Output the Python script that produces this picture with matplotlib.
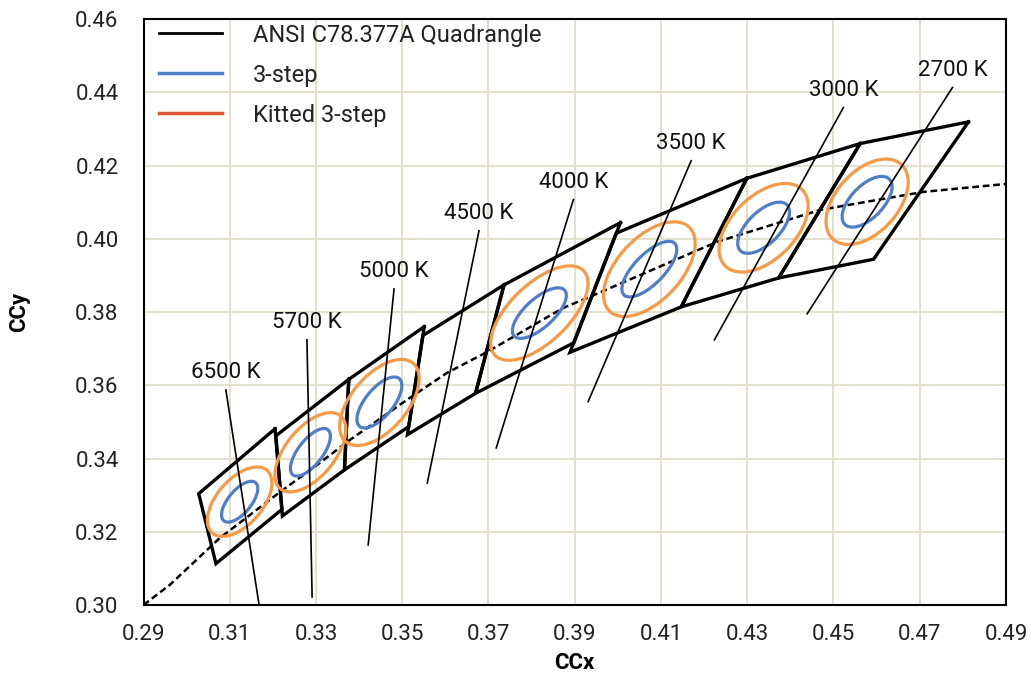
import numpy as np
import matplotlib
matplotlib.use("Agg")
import matplotlib.pyplot as plt
from matplotlib.patches import Ellipse
from matplotlib.lines import Line2D

plt.rcParams['font.family'] = ['Roboto', 'DejaVu Sans']

# ANSI C78.377A quadrangles (4 corners each, CIE x,y)
cct_names = ["6500 K", "5700 K", "5000 K", "4500 K", "4000 K", "3500 K", "3000 K", "2700 K"]
quad_x = [
    [0.3205, 0.3028, 0.3068, 0.3221],
    [0.3376, 0.3207, 0.3222, 0.3366],
    [0.3551, 0.3376, 0.3366, 0.3515],
    [0.3736, 0.3548, 0.3512, 0.3670],
    [0.4006, 0.3736, 0.3670, 0.3898],
    [0.4299, 0.3996, 0.3889, 0.4147],
    [0.4562, 0.4299, 0.4147, 0.4373],
    [0.4813, 0.4562, 0.4373, 0.4593],
]
quad_y = [
    [0.3481, 0.3304, 0.3113, 0.3261],
    [0.3616, 0.3462, 0.3243, 0.3369],
    [0.3760, 0.3616, 0.3369, 0.3487],
    [0.3874, 0.3736, 0.3465, 0.3578],
    [0.4044, 0.3874, 0.3578, 0.3716],
    [0.4165, 0.4015, 0.3690, 0.3814],
    [0.4260, 0.4165, 0.3814, 0.3893],
    [0.4319, 0.4260, 0.3893, 0.3944],
]

# Ellipse centers (no ellipse at 4500 K)
ell_names = ["6500 K", "5700 K", "5000 K", "4000 K", "3500 K", "3000 K", "2700 K"]
ell_cx = [0.3123, 0.3287, 0.3447, 0.3818, 0.4073, 0.4338, 0.4578]
ell_cy = [0.3282, 0.3417, 0.3553, 0.3797, 0.3917, 0.4030, 0.4101]
# 3-step ellipses: semi-axes and angle (deg)
step3_a = [0.0064, 0.0074, 0.0080, 0.0086, 0.0092, 0.0083, 0.0081]
step3_b = [0.0028, 0.0030, 0.0034, 0.0036, 0.0037, 0.0040, 0.0040]
step3_theta = [57.0, 58.5, 57.0, 49.0, 52.0, 52.0, 53.5]
# Kitted 3-step ellipses
kit_a = [0.0107, 0.0122, 0.0133, 0.0155, 0.0148, 0.0138, 0.0130]
kit_b = [0.0056, 0.0060, 0.0068, 0.0073, 0.0078, 0.0079, 0.0076]
kit_theta = [57.0, 58.0, 57.0, 51.0, 55.0, 54.0, 57.0]

# Isotemperature lines (top end, bottom end)
iso_x_top = [0.3091, 0.3279, 0.3481, 0.3678, 0.3897, 0.4170, 0.4523, 0.4776]
iso_y_top = [0.3587, 0.3724, 0.3863, 0.4022, 0.4107, 0.4213, 0.4358, 0.4413]
iso_x_bot = [0.3168, 0.3291, 0.3421, 0.3558, 0.3718, 0.3931, 0.4224, 0.4439]
iso_y_bot = [0.3000, 0.3022, 0.3164, 0.3333, 0.3429, 0.3555, 0.3724, 0.3795]

# Planckian locus (dashed)
pl_x = [0.2900, 0.2961, 0.3077, 0.3217, 0.3293, 0.3379, 0.3518, 0.3604, 0.3697,
        0.3873, 0.3936, 0.4231, 0.4470, 0.4709, 0.4903]
pl_y = [0.3000, 0.3055, 0.3183, 0.3309, 0.3374, 0.3451, 0.3566, 0.3634, 0.3691,
        0.3811, 0.3842, 0.3992, 0.4079, 0.4128, 0.4150]

x_ticks = [0.29, 0.31, 0.33, 0.35, 0.37, 0.39, 0.41, 0.43, 0.45, 0.47, 0.49]
y_ticks = [0.30, 0.32, 0.34, 0.36, 0.38, 0.40, 0.42, 0.44, 0.46]

BLUE = "#4F7EC9"
ORANGE = "#F79A45"
RED = "#DE5436"
GRID = "#E2DDCB"

fig = plt.figure(figsize=(10.31, 6.81), dpi=100)
ax = fig.add_axes([0.1392, 0.1116, 0.9757 - 0.1392, 0.9721 - 0.1116])

ax.set_xlim(0.29, 0.49)
ax.set_ylim(0.30, 0.46)
ax.set_xticks(x_ticks)
ax.set_yticks(y_ticks)
ax.set_xticklabels([f"{v:.2f}" for v in x_ticks])
ax.set_yticklabels([f"{v:.2f}" for v in y_ticks])
ax.grid(True, color=GRID, lw=1.3, zorder=0)
ax.set_axisbelow(True)
ax.tick_params(axis='both', length=0, labelsize=16, colors='#222222')
ax.tick_params(axis='x', pad=14)
ax.tick_params(axis='y', pad=18)
for s in ax.spines.values():
    s.set_linewidth(1.5)
    s.set_color('black')

# Planckian locus
ax.plot(pl_x, pl_y, color='black', lw=1.8, ls=(0, (2.7, 1.5)), zorder=3)

# Quadrangles
for qx, qy in zip(quad_x, quad_y):
    ax.plot(qx + [qx[0]], qy + [qy[0]], color='black', lw=2.4, zorder=4,
            solid_joinstyle='miter')

# Ellipses
for i in range(len(ell_cx)):
    c = (ell_cx[i], ell_cy[i])
    e2 = Ellipse(c, 2 * kit_a[i], 2 * kit_b[i], angle=kit_theta[i],
                 fill=False, ec=ORANGE, lw=2.3, zorder=5)
    e1 = Ellipse(c, 2 * step3_a[i], 2 * step3_b[i], angle=step3_theta[i],
                 fill=False, ec=BLUE, lw=2.3, zorder=5)
    ax.add_patch(e2)
    ax.add_patch(e1)

# Isotemperature lines and labels
for name, xt, yt, xb, yb in zip(cct_names, iso_x_top, iso_y_top, iso_x_bot, iso_y_bot):
    ax.plot([xt, xb], [yt, yb], color='black', lw=1.2, zorder=6)
    ax.annotate(name, (xt, yt), xytext=(0, 5), textcoords='offset points',
                ha='center', va='bottom', fontsize=16, color='#111111', zorder=7)

handles = [Line2D([], [], color='black', lw=2),
           Line2D([], [], color=BLUE, lw=2.5),
           Line2D([], [], color=RED, lw=2.5)]
labels = ["ANSI C78.377A Quadrangle", "3-step", "Kitted 3-step"]
ax.legend(handles, labels, loc='upper left', frameon=False, fontsize=17,
          handlelength=2.67, handletextpad=1.31, labelspacing=0.72,
          borderpad=0.12, borderaxespad=0.0, bbox_to_anchor=(0.015, 0.997),
          labelcolor='#222222')

ax.set_xlabel("CCx", fontsize=16, fontweight='bold', labelpad=5)
ax.set_ylabel("CCy", fontsize=16, fontweight='bold', labelpad=32)

fig.savefig("out.png", dpi=100)
